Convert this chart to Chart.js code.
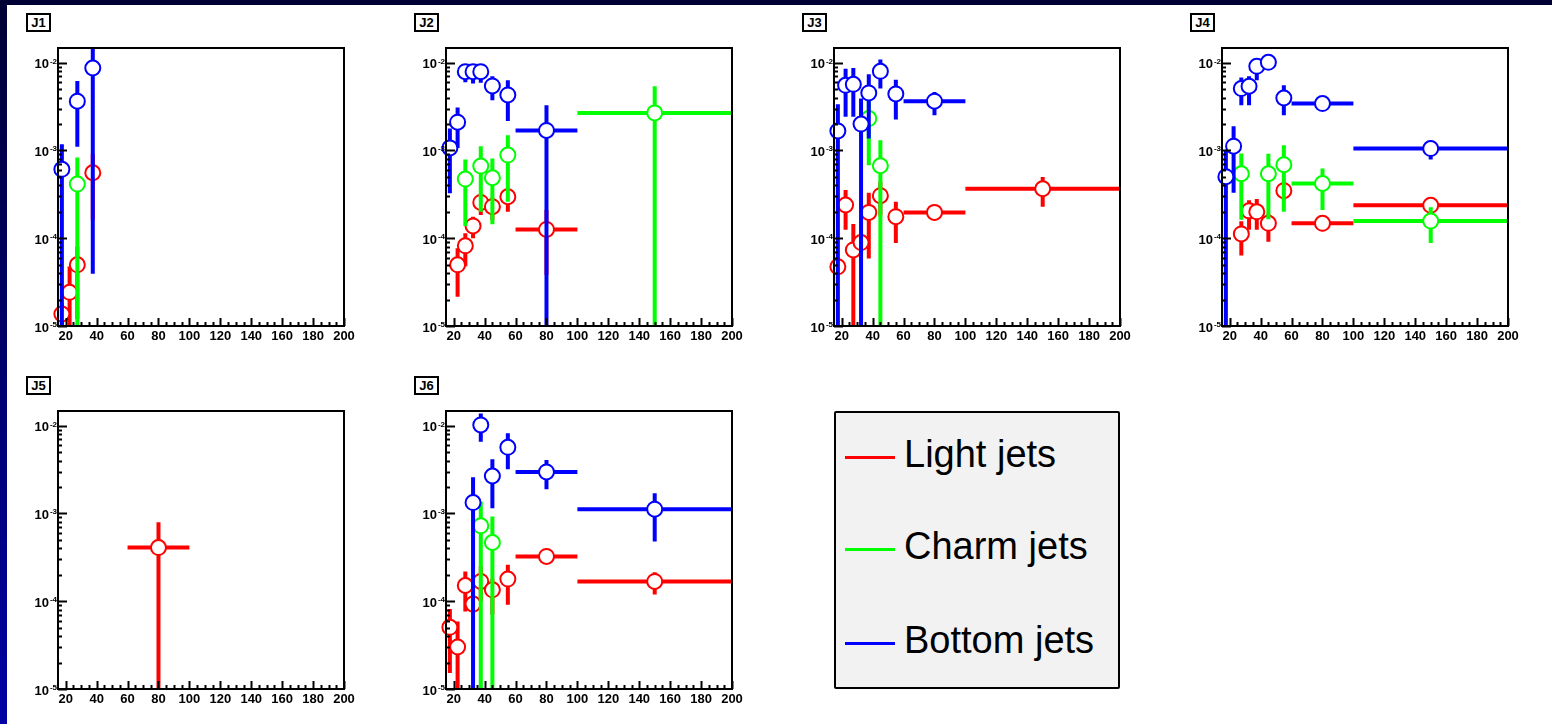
<!DOCTYPE html>
<html>
<head>
<meta charset="utf-8">
<script src="https://cdn.jsdelivr.net/npm/chart.js@4"></script>
<style>
  body { margin: 0; width: 1552px; height: 724px; overflow: hidden; position: relative;
         background: linear-gradient(to bottom, #000034 0%, #0000a4 100%);
         font-family: "Liberation Sans", Arial, sans-serif; }
  #sheet { position: absolute; left: 7px; top: 5px; right: 0; bottom: 0; background: #fff; }
  canvas { position: absolute; }
  .tag { position: absolute; width: 25px; height: 19px; box-sizing: border-box; border: 2px solid #000;
         background: #fff; font-weight: bold; font-size: 13px; line-height: 15px; text-align: center; color: #000; }
  #legend { position: absolute; left: 834px; top: 411px; width: 286px; height: 278px; box-sizing: border-box;
            border: 2px solid #000; border-radius: 2px; background: #f2f2f2; }
  .lline { position: absolute; left: 845px; width: 50px; height: 3px; }
  .ltext { position: absolute; left: 904px; font-size: 38px; line-height: 38px; color: #000; white-space: nowrap; }
</style>
</head>
<body>
<div id="sheet"></div>
<div id="legend"></div>

<script>
// pT bins (x axis)
const binMid  = [17.5, 22.5, 27.5, 32.5, 37.5, 45, 55, 80, 150];
const binLow  = [15, 20, 25, 30, 35, 40, 50, 60, 100];
const binHigh = [20, 25, 30, 35, 40, 50, 60, 100, 200];

const xLabelValues = [20, 40, 60, 80, 100, 120, 140, 160, 180, 200];
const yDecades = [1e-5, 1e-4, 1e-3, 1e-2];
const yDecadeExp = ['-5', '-4', '-3', '-2'];

const flavourNames  = ['Light jets', 'Charm jets', 'Bottom jets'];
const flavourColors = ['#ff0000', '#00ff00', '#0000ff'];

// values, lower and upper error bounds (0 = down to the axis)
const j1Light    = [1.37e-5, 2.42e-5, 4.98e-5, null, 5.57e-4, null, null, null, null];
const j1LightLo  = [0, 0, 1.2e-5, null, 1.62e-4, null, null, null, null];
const j1LightHi  = [1.8e-5, 4.77e-5, 8e-5, null, 9.2e-4, null, null, null, null];
const j1Charm    = [null, null, 4.14e-4, null, null, null, null, null, null];
const j1CharmLo  = [null, null, 0, null, null, null, null, null, null];
const j1CharmHi  = [null, null, 8.3e-4, null, null, null, null, null, null];
const j1Bottom   = [6.1e-4, null, 3.64e-3, null, 8.7e-3, null, null, null, null];
const j1BottomLo = [0, null, 1.1e-3, null, 3.94e-5, null, null, null, null];
const j1BottomHi = [1.18e-3, null, 6.19e-3, null, 0.03, null, null, null, null];

const j2Light    = [null, 4.98e-5, 8.2e-5, 1.38e-4, 2.56e-4, 2.29e-4, 2.97e-4, 1.26e-4, null];
const j2LightLo  = [null, 2.15e-5, 4.8e-5, 1.0e-4, 1.84e-4, 1.6e-4, 2.0e-4, 3.8e-5, null];
const j2LightHi  = [null, 7.7e-5, 1.14e-4, 1.76e-4, 3.2e-4, 2.9e-4, 3.7e-4, 2.1e-4, null];
const j2Charm    = [null, null, 4.72e-4, null, 6.64e-4, 4.89e-4, 8.85e-4, null, 2.68e-3];
const j2CharmLo  = [null, null, 1.38e-4, null, 2.0e-4, 1.44e-4, 2.61e-4, null, 0];
const j2CharmHi  = [null, null, 7.9e-4, null, 1.12e-3, 8.1e-4, 1.49e-3, null, 5.38e-3];
const j2Bottom   = [1.07e-3, 2.1e-3, 7.9e-3, 7.9e-3, 7.9e-3, 5.43e-3, 4.29e-3, 1.69e-3, null];
const j2BottomLo = [3.25e-4, 1.07e-3, 6.0e-3, 5.8e-3, 5.9e-3, 3.73e-3, 2.17e-3, 0, null];
const j2BottomHi = [1.78e-3, 3.08e-3, 9.5e-3, 9.5e-3, 9.5e-3, 7.0e-3, 6.3e-3, 3.27e-3, null];

const j3Light    = [4.72e-5, 2.39e-4, 7.36e-5, 8.93e-5, 1.97e-4, 3.05e-4, 1.76e-4, 1.97e-4, 3.66e-4];
const j3LightLo  = [4.72e-5, 1.25e-4, 0, 7e-5, 5.87e-5, 1.82e-4, 8.8e-5, 1.6e-4, 2.29e-4];
const j3LightHi  = [4.72e-5, 3.54e-4, 1.45e-4, 1.1e-4, 3.3e-4, 4.4e-4, 2.61e-4, 2.4e-4, 5.0e-4];
const j3Charm    = [null, null, null, null, 2.31e-3, 6.7e-4, null, null, null];
const j3CharmLo  = [null, null, null, null, 6.8e-4, 0, null, null, null];
const j3CharmHi  = [null, null, null, null, 3.83e-3, 1.31e-3, null, null, null];
const j3Bottom   = [1.67e-3, 5.52e-3, 5.67e-3, 2.0e-3, 4.52e-3, 7.97e-3, 4.41e-3, 3.64e-3, null];
const j3BottomLo = [0, 2.42e-3, 2.42e-3, 0, 1.37e-3, 5.07e-3, 2.25e-3, 2.52e-3, null];
const j3BottomHi = [3.36e-3, 8.55e-3, 8.7e-3, 3.9e-3, 7.36e-3, 1.09e-2, 6.41e-3, 4.64e-3, null];

const j4Light    = [null, null, 1.12e-4, 2.05e-4, 2.0e-4, 1.48e-4, 3.48e-4, 1.48e-4, 2.37e-4];
const j4LightLo  = [null, null, 6.35e-5, 1.25e-4, 1.25e-4, 9.1e-5, 2.7e-4, 1.2e-4, 1.9e-4];
const j4LightHi  = [null, null, 1.56e-4, 2.7e-4, 2.8e-4, 1.9e-4, 4.4e-4, 1.8e-4, 2.9e-4];
const j4Charm    = [null, null, 5.43e-4, null, null, 5.43e-4, 6.87e-4, 4.2e-4, 1.57e-4];
const j4CharmLo  = [null, null, 1.62e-4, null, null, 1.64e-4, 2.0e-4, 2.1e-4, 8.8e-5];
const j4CharmHi  = [null, null, 9.24e-4, null, null, 9.2e-4, 1.15e-3, 6.24e-4, 2.25e-4];
const j4Bottom   = [5.03e-4, 1.12e-3, 5.07e-3, 5.39e-3, 9.1e-3, 1.01e-2, 3.96e-3, 3.42e-3, 1.05e-3];
const j4BottomLo = [0, 3.3e-4, 3.27e-3, 3.27e-3, 6.3e-3, 8.5e-3, 2.52e-3, 3.0e-3, 7.9e-4];
const j4BottomHi = [1.01e-3, 1.89e-3, 6.76e-3, 6.99e-3, 1.1e-2, 1.2e-2, 5.52e-3, 3.9e-3, 1.3e-3];

const j5Light    = [null, null, null, null, null, null, null, 4.09e-4, null];
const j5LightLo  = [null, null, null, null, null, null, null, 0, null];
const j5LightHi  = [null, null, null, null, null, null, null, 7.94e-4, null];

const j6Light    = [5.04e-5, 3.01e-5, 1.51e-4, 9.27e-5, 1.68e-4, 1.35e-4, 1.79e-4, 3.24e-4, 1.68e-4];
const j6LightLo  = [1.52e-5, 0, 7.66e-5, 7.7e-5, 1.0e-4, 7.0e-5, 9.1e-5, 2.75e-4, 1.19e-4];
const j6LightHi  = [8.13e-5, 5.89e-5, 2.18e-4, 1.25e-4, 2.5e-4, 1.8e-4, 2.6e-4, 3.8e-4, 2.14e-4];
const j6Charm    = [null, null, null, null, 7.23e-4, 4.67e-4, null, null, null];
const j6CharmLo  = [null, null, null, null, 0, 0, null, null, null];
const j6CharmHi  = [null, null, null, null, 1.36e-3, 9.22e-4, null, null, null];
const j6Bottom   = [null, null, null, 1.33e-3, 1.02e-2, 2.67e-3, 5.67e-3, 2.97e-3, 1.12e-3];
const j6BottomLo = [null, null, null, 0, 6.58e-3, 1.15e-3, 3.19e-3, 1.89e-3, 4.79e-4];
const j6BottomHi = [null, null, null, 2.58e-3, 1.38e-2, 4.14e-3, 8.18e-3, 4.07e-3, 1.7e-3];

const X_MIN = 15, X_MAX = 200, Y_MIN = 1e-5, Y_MAX = 0.0147;
const FRAME_W = 286, FRAME_H = 278;
const AXIS_W = 50, AXIS_H = 22, PAD_TOP = 12, PAD_RIGHT = 16;

const panels = [
    { tag: 'J1', left: 58,   top: 48,  series: [[j1Light, j1LightLo, j1LightHi], [j1Charm, j1CharmLo, j1CharmHi], [j1Bottom, j1BottomLo, j1BottomHi]] },
    { tag: 'J2', left: 446,  top: 48,  series: [[j2Light, j2LightLo, j2LightHi], [j2Charm, j2CharmLo, j2CharmHi], [j2Bottom, j2BottomLo, j2BottomHi]] },
    { tag: 'J3', left: 834,  top: 48,  series: [[j3Light, j3LightLo, j3LightHi], [j3Charm, j3CharmLo, j3CharmHi], [j3Bottom, j3BottomLo, j3BottomHi]] },
    { tag: 'J4', left: 1222, top: 48,  series: [[j4Light, j4LightLo, j4LightHi], [j4Charm, j4CharmLo, j4CharmHi], [j4Bottom, j4BottomLo, j4BottomHi]] },
    { tag: 'J5', left: 58,   top: 411, series: [[j5Light, j5LightLo, j5LightHi], null, null] },
    { tag: 'J6', left: 446,  top: 411, series: [[j6Light, j6LightLo, j6LightHi], [j6Charm, j6CharmLo, j6CharmHi], [j6Bottom, j6BottomLo, j6BottomHi]] },
];

const FONT = '"Liberation Sans", Arial, sans-serif';
const tickFont = { family: FONT, size: 13, weight: 'bold' };

function isDecade(v) {
    return yDecades.findIndex(d => Math.abs(v / d - 1) < 1e-6);
}

function xTicks() {
    const ticks = [];
    for (let v = 20; v <= X_MAX; v += 5) ticks.push({ value: v });
    return ticks;
}

function yTicks() {
    const ticks = [];
    yDecades.forEach(d => {
        for (let m = 1; m <= 9; m++) {
            const v = m * d;
            if (v <= Y_MAX) ticks.push({ value: v });
        }
    });
    return ticks;
}

function makePoints(vals, lo, hi) {
    const pts = [];
    vals.forEach((v, i) => {
        if (v === null) return;
        pts.push({ x: binMid[i], y: v, lo: lo[i], hi: hi[i], xl: binLow[i], xh: binHigh[i] });
    });
    return pts;
}

// ROOT style error bars, drawn just before each dataset's markers
const errorBars = {
    id: 'errorBars',
    beforeDatasetDraw(chart, args) {
        const ds = chart.data.datasets[args.index];
        const xs = chart.scales.x, ys = chart.scales.y, a = chart.chartArea;
        const ctx = chart.ctx;
        ctx.save();
        ctx.beginPath();
        ctx.rect(a.left, a.top, a.right - a.left, a.bottom - a.top);
        ctx.clip();
        ctx.strokeStyle = ds.pointBorderColor;
        ctx.lineWidth = 4;
        ds.data.forEach(p => {
            const px = xs.getPixelForValue(p.x);
            const py = ys.getPixelForValue(p.y);
            const top = ys.getPixelForValue(p.hi);
            const bot = p.lo > 0 ? ys.getPixelForValue(p.lo) : a.bottom + 5;
            ctx.beginPath();
            ctx.moveTo(xs.getPixelForValue(p.xl), py);
            ctx.lineTo(xs.getPixelForValue(p.xh), py);
            ctx.moveTo(px, top);
            ctx.lineTo(px, bot);
            ctx.stroke();
        });
        ctx.restore();
    }
};

// frame, inward tick marks and 10^n labels on the log axis
const rootFrame = {
    id: 'rootFrame',
    afterDatasetsDraw(chart) {
        const { ctx, chartArea: a } = chart;
        const xs = chart.scales.x, ys = chart.scales.y;
        ctx.save();
        ctx.strokeStyle = '#000';
        ctx.lineWidth = 2;
        ctx.beginPath();
        xs.ticks.forEach(t => {
            const px = Math.round(xs.getPixelForValue(t.value)) + 0.5;
            const len = t.value % 20 === 0 ? 8 : 4;
            ctx.moveTo(px, a.bottom);
            ctx.lineTo(px, a.bottom - len);
        });
        ys.ticks.forEach(t => {
            const py = Math.round(ys.getPixelForValue(t.value)) + 0.5;
            const len = isDecade(t.value) >= 0 ? 9 : 4;
            ctx.moveTo(a.left, py);
            ctx.lineTo(a.left + len, py);
        });
        ctx.stroke();
        ctx.strokeRect(a.left, a.top, a.right - a.left, a.bottom - a.top);

        ctx.fillStyle = '#000';
        ctx.textBaseline = 'alphabetic';
        yDecades.forEach((d, i) => {
            const py = ys.getPixelForValue(d);
            ctx.font = 'bold 8px ' + FONT;
            ctx.textAlign = 'right';
            ctx.fillText(yDecadeExp[i], a.left - 1, py + 1);
            const ew = ctx.measureText(yDecadeExp[i]).width;
            ctx.font = 'bold 13px ' + FONT;
            ctx.fillText('10', a.left - 2 - ew, py + 5.5);
        });
        ctx.restore();
    }
};

function drawPanel(panel) {
    const canvas = document.createElement('canvas');
    canvas.width = AXIS_W + FRAME_W + PAD_RIGHT;
    canvas.height = PAD_TOP + FRAME_H + AXIS_H;
    canvas.style.left = (panel.left - AXIS_W) + 'px';
    canvas.style.top = (panel.top - PAD_TOP) + 'px';
    document.body.appendChild(canvas);

    const tag = document.createElement('div');
    tag.className = 'tag';
    tag.textContent = panel.tag;
    tag.style.left = (panel.left - 32) + 'px';
    tag.style.top = (panel.top - 35) + 'px';
    document.body.appendChild(tag);

    const datasets = [];
    panel.series.forEach((s, k) => {
        if (!s) return;
        datasets.push({
            label: flavourNames[k],
            data: makePoints(s[0], s[1], s[2]),
            order: 3 - k,
            clip: false,
            pointStyle: 'circle',
            pointRadius: 7.5,
            pointBorderWidth: 2,
            pointBackgroundColor: '#ffffff',
            pointBorderColor: flavourColors[k],
            showLine: false
        });
    });

    new Chart(canvas, {
        type: 'scatter',
        data: { datasets: datasets },
        options: {
            responsive: false,
            animation: false,
            events: [],
            layout: { padding: { left: 0, top: PAD_TOP, right: PAD_RIGHT, bottom: 0 } },
            plugins: { legend: { display: false }, tooltip: { enabled: false } },
            scales: {
                x: {
                    type: 'linear', min: X_MIN, max: X_MAX,
                    grid: { display: false, drawTicks: false },
                    border: { display: false },
                    afterBuildTicks: s => { s.ticks = xTicks(); },
                    afterFit: s => { s.height = AXIS_H; },
                    ticks: {
                        autoSkip: false, maxRotation: 0, padding: 3, color: '#000', font: tickFont,
                        callback: v => xLabelValues.includes(v) ? String(v) : ''
                    }
                },
                y: {
                    type: 'logarithmic', min: Y_MIN, max: Y_MAX,
                    grid: { display: false, drawTicks: false },
                    border: { display: false },
                    afterBuildTicks: s => { s.ticks = yTicks(); },
                    afterFit: s => { s.width = AXIS_W; },
                    ticks: { autoSkip: false, display: false }
                }
            }
        },
        plugins: [errorBars, rootFrame]
    });
}

panels.forEach(drawPanel);

// legend box
const legendLineY = [457, 549, 643];
flavourNames.forEach((name, k) => {
    const line = document.createElement('div');
    line.className = 'lline';
    line.style.top = (legendLineY[k] - 1.5) + 'px';
    line.style.background = flavourColors[k];
    document.body.appendChild(line);

    const text = document.createElement('div');
    text.className = 'ltext';
    text.textContent = name;
    text.style.top = (legendLineY[k] + 10 - 32) + 'px';
    document.body.appendChild(text);
});
</script>
</body>
</html>
